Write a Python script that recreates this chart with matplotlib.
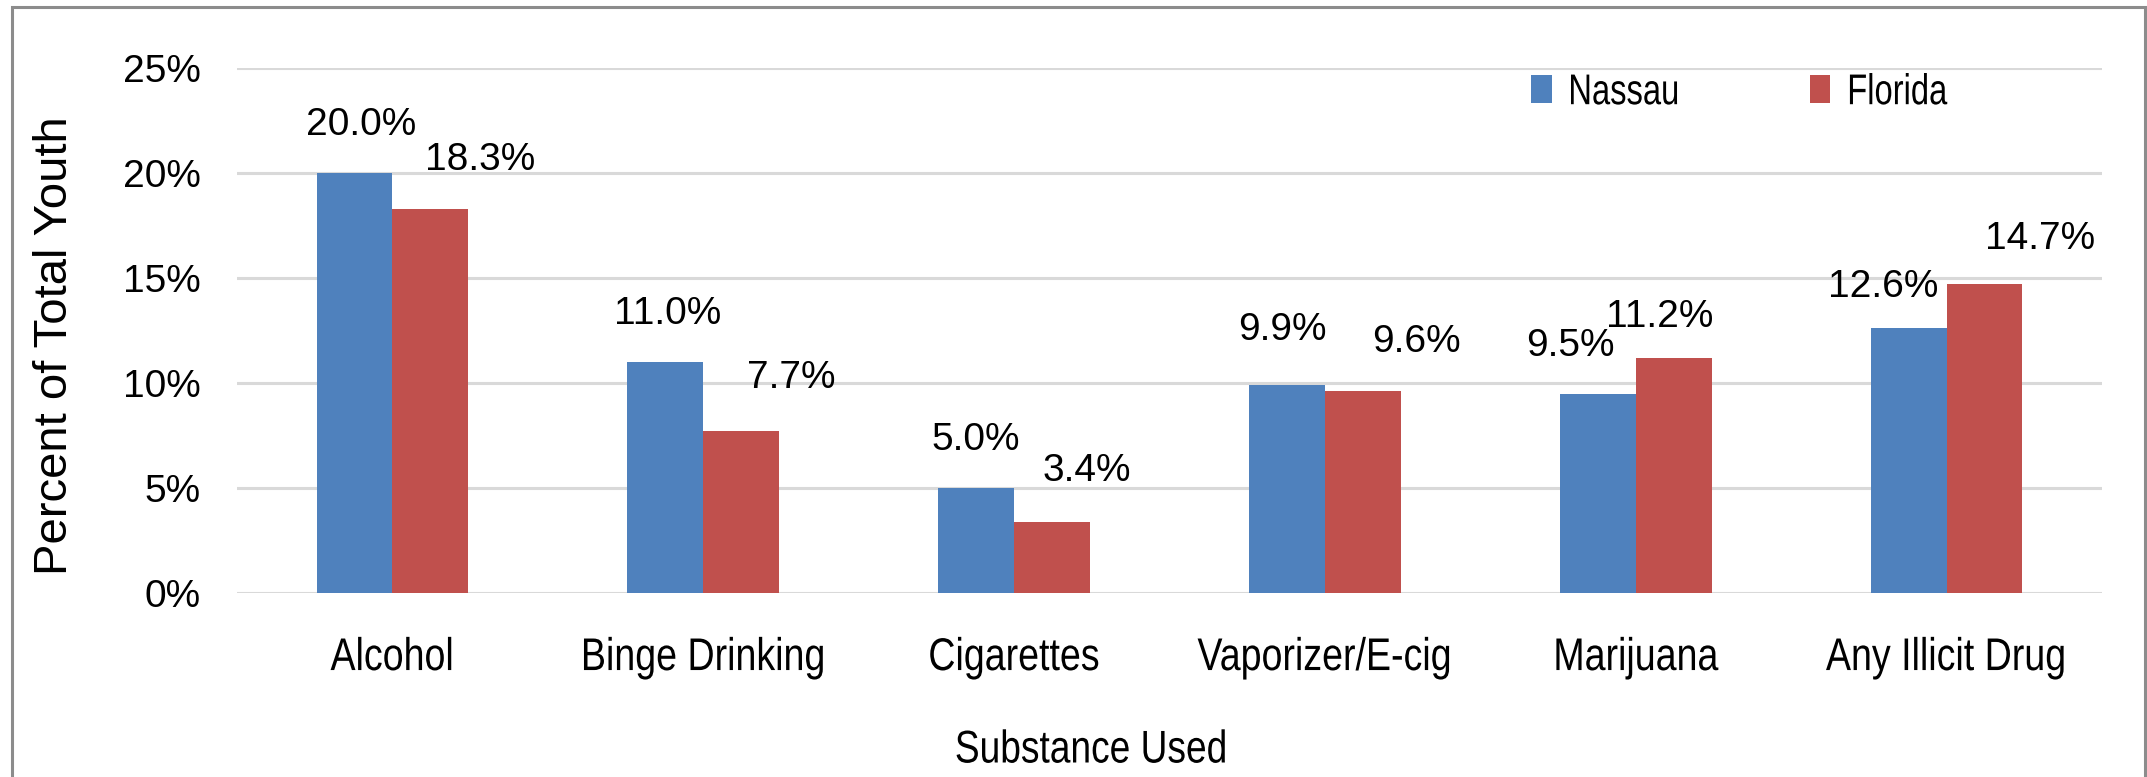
import matplotlib
matplotlib.use("Agg")
import matplotlib.pyplot as plt
from matplotlib.patches import Rectangle
from matplotlib.patheffects import AbstractPathEffect
from matplotlib.transforms import Affine2D
import numpy as np

# ── data ─────────────────────────────────────────────────────────────────────
substances = ["Alcohol", "Binge Drinking", "Cigarettes",
              "Vaporizer/E-cig", "Marijuana", "Any Illicit Drug"]
nassau  = [20.0, 11.0, 5.0, 9.9, 9.5, 12.6]
florida = [18.3, 7.7, 3.4, 9.6, 11.2, 14.7]
y_ticks = [0, 5, 10, 15, 20, 25]

# hand placed label offsets (pixels from bar top centre), like the source chart
nassau_dx  = [7, 2, 0, -5, -27, -25]
nassau_dy  = [48, 48, 48, 55, 48, 41]
florida_dx = [50, 50, 35, 54, -14, 56]
florida_dy = [49, 53, 51, 49, 41, 45]

BLUE = "#4F81BD"
RED  = "#C0504D"
GRID = "#D9D9D9"
plt.rcParams["font.family"] = ["Liberation Sans", "DejaVu Sans"]


class Squeeze(AbstractPathEffect):
    """Condense glyphs horizontally (no narrow font installed)."""
    def __init__(self, sx, anchor="center"):
        super().__init__()
        self.sx, self.anchor = sx, anchor

    def draw_path(self, renderer, gc, tpath, affine, rgbFace=None):
        ext = tpath.get_extents()
        cx = ext.x0 if self.anchor == "left" else (ext.x0 + ext.x1) / 2
        pre = Affine2D().translate(-cx, 0).scale(self.sx, 1).translate(cx, 0)
        renderer.draw_path(gc, tpath, pre + affine, rgbFace)


fig = plt.figure(figsize=(21.47, 7.77), dpi=100)
ax = fig.add_axes([237 / 2147, 1 - 593 / 777, 1865 / 2147, 525 / 777])

x = np.arange(len(substances))
w = 0.244
b1 = ax.bar(x - w / 2, nassau, w, color=BLUE, label="Nassau", zorder=3)
b2 = ax.bar(x + w / 2, florida, w, color=RED, label="Florida", zorder=3)

# data labels
for bars, vals, dxs, dys in [(b1, nassau, nassau_dx, nassau_dy),
                             (b2, florida, florida_dx, florida_dy)]:
    for rect, v, dx, dy in zip(bars, vals, dxs, dys):
        ax.annotate(f"{v:.1f}%", (rect.get_x() + rect.get_width() / 2, rect.get_height()),
                    xytext=(dx, dy), textcoords="offset pixels",
                    ha="center", va="center", fontsize=28, zorder=4)

ax.set_xlim(-0.5, len(substances) - 0.5)
ax.set_ylim(0, 25)
ax.set_yticks(y_ticks)
ax.set_yticklabels([f"{t}%" for t in y_ticks], fontsize=28)
ax.set_xticks(x)
ax.set_xticklabels(substances, fontsize=33)
for t in ax.get_xticklabels():
    t.set_path_effects([Squeeze(0.82)])
ax.tick_params(axis="both", length=0)
ax.tick_params(axis="y", pad=26)
ax.tick_params(axis="x", pad=31)

ax.yaxis.grid(True, color=GRID, lw=2.2, zorder=0)
for s in ax.spines.values():
    s.set_visible(False)

ax.set_ylabel("Percent of Total Youth", fontsize=34)
ax.yaxis.set_label_coords(-0.0975, 0.472)
ax.set_xlabel("Substance Used", fontsize=33)
ax.xaxis.label.set_path_effects([Squeeze(0.81)])
ax.xaxis.set_label_coords(0.458, -0.30)
ax.xaxis.label.set_va("center")
ax.yaxis.label.set_va("center")

leg = ax.legend(ncol=2, loc="center left", bbox_to_anchor=(0.694, 0.952),
                frameon=False, borderpad=0, borderaxespad=0,
                handlelength=0.47, handleheight=0.65, handletextpad=0.37,
                columnspacing=2.25, prop={"size": 31})
for t in leg.get_texts():
    t.set_path_effects([Squeeze(0.76, anchor="left")])

# chart border
fig.patches.append(Rectangle((12 / 2147, -0.05), (2145 - 12) / 2147, 1.05 - 7 / 777,
                             transform=fig.transFigure, fill=False,
                             edgecolor="#8C8C8C", lw=2.2))

fig.savefig("out.png", dpi=100)
